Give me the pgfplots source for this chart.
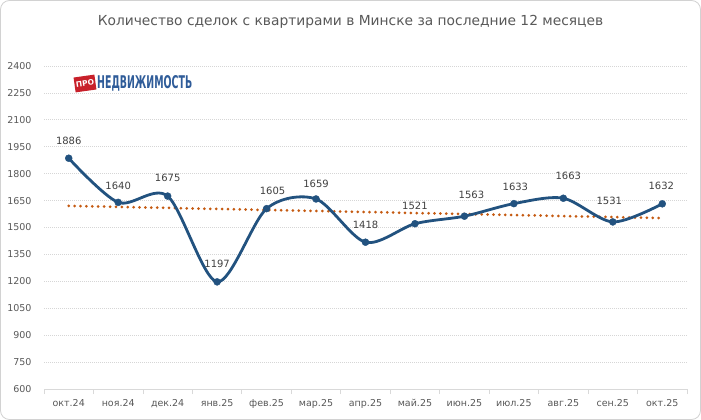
\documentclass[border=0pt]{standalone}
\usepackage{fontspec}
\setmainfont{DejaVu Sans}
\usepackage{graphicx}
\usepackage{pgfplots}
\pgfplotsset{compat=1.18}
\usepackage{pgfplotstable}
\definecolor{lineblue}{HTML}{22527F}
\definecolor{trendorange}{HTML}{C55A11}
\definecolor{txtgray}{HTML}{404040}
\definecolor{ticktxt}{HTML}{595959}
\definecolor{gridgray}{HTML}{D9D9D9}
\definecolor{griddot}{HTML}{D6D6D6}
\definecolor{logored}{HTML}{C8202A}
\definecolor{logoblue}{HTML}{2F5C99}

\pgfplotstableread{
x y dx dy
0 1886 0 17
1 1640 0 16.5
2 1675 0 18
3 1197 0 18
4 1605 6 18
5 1659 0 15
6 1418 0 17
7 1521 0 18
8 1563 7 21
9 1633 1.5 17
10 1663 5 22
11 1531 -3.5 21
12 1632 -1 18
}\deals

\begin{document}
\begin{tikzpicture}[x=1pt,y=1pt]
\useasboundingbox (0,0) rectangle (701,420);
\draw[gray!35, line width=0.8pt, rounded corners=9pt, fill=white] (0.5,0.5) rectangle (700.5,419.5);
\node[text=ticktxt, font=\fontsize{13.8}{16}\selectfont] at (350.5,398) {Количество сделок с квартирами в Минске за последние 12 месяцев};
\begin{axis}[
 at={(44pt,31pt)}, anchor=south west,
 scale only axis, width=643pt, height=323pt,
 xmin=-0.5, xmax=12.5, ymin=600, ymax=2400,
 ytick={600,750,...,2400},
 xtick={0,...,12},
 xticklabels={окт.24,ноя.24,дек.24,янв.25,фев.25,мар.25,апр.25,май.25,июн.25,июл.25,авг.25,сен.25,окт.25},
 minor xtick={-0.5,0.5,...,12.5},
 axis x line*=bottom, axis y line*=left,
 y axis line style={draw=none},
 x axis line style={gridgray, line width=0.8pt, -},
 ymajorgrids, major grid style={griddot, line width=0.7pt, dash pattern=on 1pt off 1pt},
 major tick length=0pt, minor tick length=5pt, tick align=outside,
 major tick style={draw=none},
 minor tick style={gridgray, line width=0.8pt},
 /pgf/number format/assume math mode=true,
 /pgf/number format/1000 sep={},
 ticklabel style={text=ticktxt, font=\fontsize{9.5}{11}\selectfont},
 yticklabel style={anchor=east, xshift=-9pt},
 xticklabel style={anchor=north, yshift=-7pt},
 clip=false,
]
\addplot[trendorange, line width=3pt, line cap=round, dash pattern=on 0pt off 5.9pt] coordinates {(0,1620.4) (12,1552.4)};
\addplot[lineblue, line width=2.8pt, smooth, tension=0.5,
  mark=*, mark size=3.5pt, mark options={fill=lineblue, draw=lineblue, line width=0.4pt},
  nodes near coords, point meta=explicit,
  visualization depends on={\thisrow{dx} \as \dx},
  visualization depends on={\thisrow{dy} \as \dy},
  every node near coord/.append style={anchor=center, xshift=\dx pt, yshift=\dy pt, text=txtgray, font=\fontsize{10}{12}\selectfont}]
  table[x=x, y=y, meta=y] {\deals};
\end{axis}
\node[fill=logored, text=white, rotate=8, minimum width=21pt, minimum height=15pt, inner sep=0pt, font=\bfseries\fontsize{7.5}{7.5}\selectfont] at (85,336.5) {ПРО};
\node[anchor=west, text=logoblue, inner sep=0pt] at (97,337) {\resizebox{95pt}{13pt}{\bfseries НЕДВИЖИМОСТЬ}};
\end{tikzpicture}
\end{document}
